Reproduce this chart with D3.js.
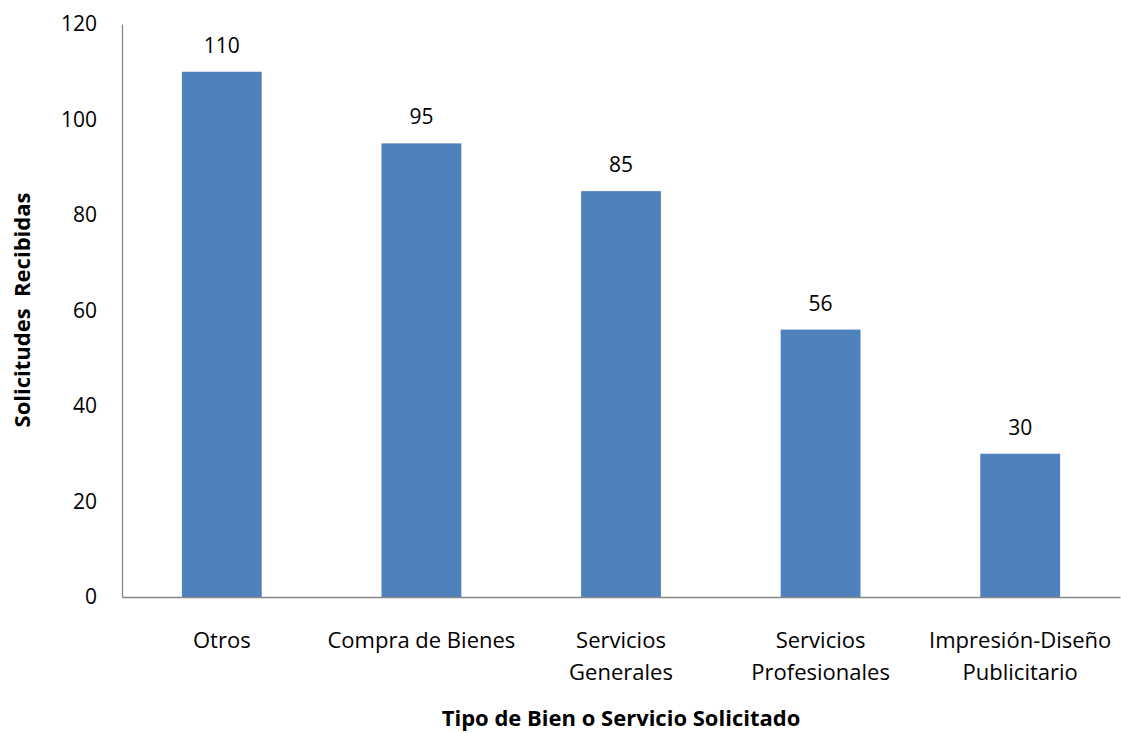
<!DOCTYPE html>
<html>
<head>
<meta charset="utf-8">
<script src="https://cdn.jsdelivr.net/npm/d3@7"></script>
<style>
  html, body { margin: 0; padding: 0; background: #fff; }
  svg { display: block; }
  text { font-family: "Open Sans", "Noto Sans", sans-serif; fill: #000; }
</style>
</head>
<body>
<svg id="chart" width="1121" height="734"></svg>
<script>
// Solicitudes recibidas por tipo de bien o servicio
const categories = [
  ["Otros"],
  ["Compra de Bienes"],
  ["Servicios", "Generales"],
  ["Servicios", "Profesionales"],
  ["Impresión-Diseño", "Publicitario"]
];
const values = [110, 95, 85, 56, 30];
const yTicks = [0, 20, 40, 60, 80, 100, 120];

const svg = d3.select("#chart");
const margin = { left: 122, right: 1, top: 24, bottom: 137 };
const W = 1121, H = 734;

const x = d3.scaleBand()
  .domain(d3.range(categories.length))
  .range([margin.left, W - margin.right])
  .paddingInner(0.6)
  .paddingOuter(0.3);

const y = d3.scaleLinear()
  .domain([0, 120])
  .range([H - margin.bottom, margin.top]);

// bars
svg.append("g").selectAll("rect")
  .data(values)
  .join("rect")
  .attr("x", (d, i) => x(i))
  .attr("width", x.bandwidth())
  .attr("y", d => y(d))
  .attr("height", d => y(0) - y(d))
  .attr("fill", "#4F81BD");

// value labels
svg.append("g").selectAll("text")
  .data(values)
  .join("text")
  .attr("x", (d, i) => x(i) + x.bandwidth() / 2)
  .attr("y", d => y(d) - 19)
  .attr("text-anchor", "middle")
  .attr("font-size", 21)
  .text(d => d);

// y axis
const yAxis = svg.append("g")
  .attr("transform", `translate(${margin.left},0)`)
  .call(d3.axisLeft(y).tickValues(yTicks).tickSize(0).tickPadding(25));
yAxis.select(".domain").attr("stroke", "#868686").attr("stroke-width", 1.3);
yAxis.selectAll("text")
  .attr("font-size", 21)
  .attr("font-family", "'Open Sans', sans-serif")
  .attr("fill", "#000");

// x axis line
const xAxis = svg.append("g")
  .attr("transform", `translate(0,${y(0)})`)
  .call(d3.axisBottom(x).tickSize(0).tickFormat(""));
xAxis.select(".domain").attr("stroke", "#868686").attr("stroke-width", 1.3);

// category labels (wrapped)
const catG = svg.append("g");
categories.forEach((lines, i) => {
  const t = catG.append("text")
    .attr("x", x(i) + x.bandwidth() / 2)
    .attr("y", 648)
    .attr("text-anchor", "middle")
    .attr("font-size", 22);
  lines.forEach((ln, j) => {
    t.append("tspan")
      .attr("x", x(i) + x.bandwidth() / 2)
      .attr("dy", j === 0 ? 0 : 32)
      .text(ln);
  });
});

// axis titles
svg.append("text")
  .attr("x", (margin.left + W - margin.right) / 2)
  .attr("y", 726)
  .attr("text-anchor", "middle")
  .attr("font-size", 22)
  .attr("font-weight", "bold")
  .text("Tipo de Bien o Servicio Solicitado");

svg.append("text")
  .attr("transform", "translate(30,310) rotate(-90)")
  .attr("text-anchor", "middle")
  .attr("font-size", 22)
  .attr("font-weight", "bold")
  .attr("xml:space", "preserve")
  .style("white-space", "pre")
  .text("Solicitudes  Recibidas");
</script>
</body>
</html>
